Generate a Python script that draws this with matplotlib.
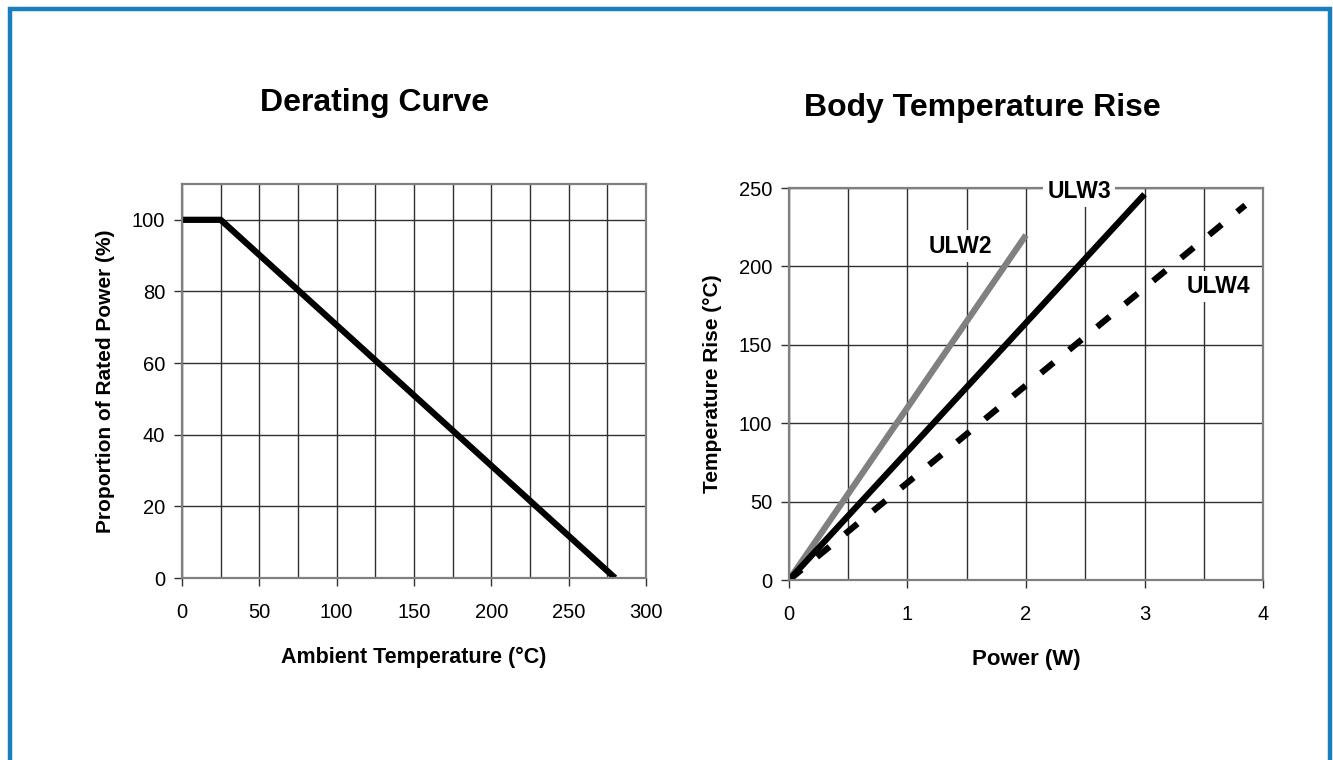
import numpy as np
import matplotlib
matplotlib.use('Agg')
import matplotlib.pyplot as plt
from matplotlib.patches import Rectangle

plt.rcParams.update({
    'font.family': ['Liberation Sans', 'DejaVu Sans'],
    'text.color': 'black',
    'xtick.color': 'black',
    'ytick.color': 'black',
})

# ── Data ───────────────────────────────────────────────────────────
derate_temp  = [0, 25, 280]
derate_power = [100, 100, 0]

ulw2_power = [0, 2.0]
ulw2_rise  = [0, 220]
ulw3_power = [0, 3.0]
ulw3_rise  = [0, 246]
ulw4_power = [0, 3.85]
ulw4_rise  = [0, 239]

BLUE = '#1A7DC0'
FRAME = '#808080'
GRID = '#303030'

W, H = 1333, 760
fig = plt.figure(figsize=(W / 100, H / 100), dpi=100)
fig.patch.set_facecolor('white')

# blue border round the whole picture
fig.patches.append(Rectangle((10 / W, -0.05), 1320 / W, 1 - 9 / H + 0.05,
                             transform=fig.transFigure, fill=False,
                             edgecolor=BLUE, linewidth=3.2))


def style(ax):
    for s in ax.spines.values():
        s.set_color(FRAME)
        s.set_linewidth(1.6)
    ax.grid(True, color=GRID, linewidth=1.0)
    ax.set_axisbelow(True)
    ax.tick_params(direction='out', length=6, width=1.0, color=GRID,
                   labelsize=14.5)
    ax.tick_params(axis='x', pad=12)
    ax.tick_params(axis='y', pad=6)


# ══════════════════════════════════════════════════════════════════
# Derating curve
# ══════════════════════════════════════════════════════════════════
ax1 = fig.add_axes([182 / W, 1 - 578 / H, 464 / W, 394 / H])
ax1.plot(derate_temp, derate_power, color='black', linewidth=4.5,
         solid_capstyle='butt')
ax1.set_xlim(0, 300)
ax1.set_ylim(0, 110)
ax1.set_xticks(np.arange(0, 301, 50))
ax1.set_xticks(np.arange(0, 301, 25), minor=True)
ax1.set_yticks(np.arange(0, 101, 20))
ax1.tick_params(axis='x', which='minor', length=0)
ax1.grid(True, which='minor', axis='x', color=GRID, linewidth=1.0)
style(ax1)
ax1.set_xlabel('Ambient Temperature (°C)', fontsize=15.5, fontweight='bold',
               labelpad=18)
ax1.set_ylabel('Proportion of Rated Power (%)', fontsize=15, fontweight='bold',
               labelpad=12)
fig.text(375 / W, 1 - 103 / H, 'Derating Curve', fontsize=23,
         fontweight='bold', ha='center', va='center')

# ══════════════════════════════════════════════════════════════════
# Body temperature rise
# ══════════════════════════════════════════════════════════════════
ax2 = fig.add_axes([789 / W, 1 - 580 / H, 474 / W, 392 / H])
ax2.plot(ulw2_power, ulw2_rise, color='#808080', linewidth=4.5,
         solid_capstyle='butt')
ax2.plot(ulw3_power, ulw3_rise, color='black', linewidth=4.5,
         solid_capstyle='butt')
ax2.plot(ulw4_power, ulw4_rise, color='black', linewidth=4.5,
         linestyle=(0, (2.6, 3.2)))
ax2.set_xlim(0, 4)
ax2.set_ylim(0, 250)
ax2.set_xticks(np.arange(0, 5, 1))
ax2.set_xticks(np.arange(0, 4.01, 0.5), minor=True)
ax2.set_yticks(np.arange(0, 251, 50))
ax2.tick_params(axis='x', which='minor', length=0)
ax2.grid(True, which='minor', axis='x', color=GRID, linewidth=1.0)
style(ax2)
ax2.set_xlabel('Power (W)', fontsize=16, fontweight='bold', labelpad=18)
ax2.set_ylabel('Temperature Rise (°C)', fontsize=15, fontweight='bold',
               labelpad=12)
fig.text(982 / W, 1 - 108 / H, 'Body Temperature Rise', fontsize=23,
         fontweight='bold', ha='center', va='center')

box = dict(facecolor='white', edgecolor='none', pad=3)
ax2.text(1.45, 213, 'ULW2', fontsize=16.5, fontweight='bold', ha='center',
         va='center', bbox=box, zorder=5)
ax2.text(2.45, 248, 'ULW3', fontsize=16.5, fontweight='bold', ha='center',
         va='center', bbox=box, zorder=5, clip_on=False)
ax2.text(3.62, 187, 'ULW4', fontsize=16.5, fontweight='bold', ha='center',
         va='center', bbox=box, zorder=5)

fig.savefig('out.png', dpi=100, facecolor='white')
